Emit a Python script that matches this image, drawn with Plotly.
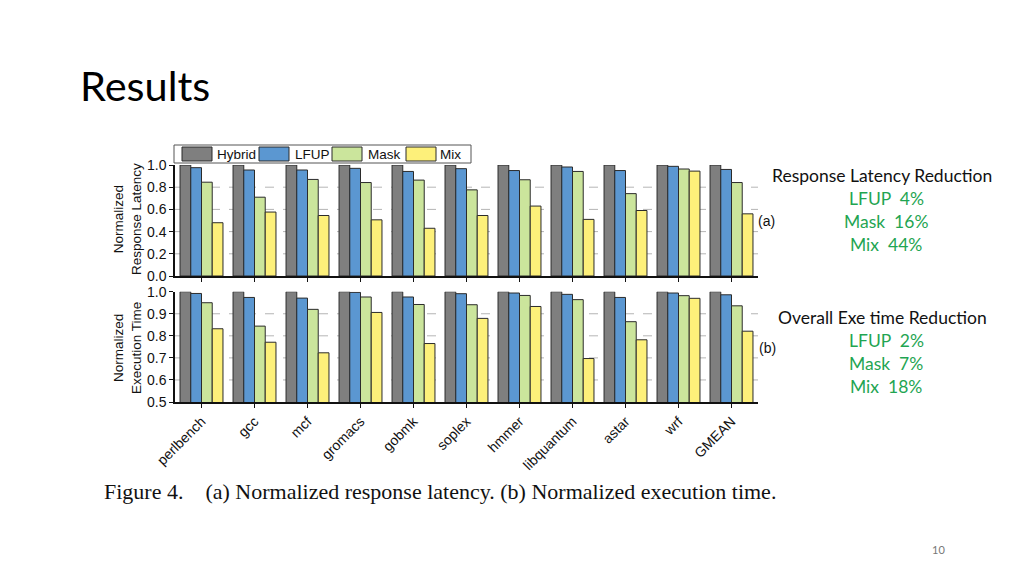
import plotly.graph_objects as go
from plotly.subplots import make_subplots

# page has an 8px body margin, so the figure is drawn 8px in from the window edge
OFF = 8
W, H = 1024 - OFF, 576 - OFF

benchmarks = ["perlbench", "gcc", "mcf", "gromacs", "gobmk", "soplex",
              "hmmer", "libquantum", "astar", "wrf", "GMEAN"]
series_names = ["Hybrid", "LFUP", "Mask", "Mix"]
colors = ["#7f7f7f", "#5b97d1", "#cbe59c", "#fdf07a"]

latency_hybrid = [1.0] * 11
latency_lfup = [0.976, 0.955, 0.955, 0.970, 0.942, 0.967, 0.950, 0.982, 0.950, 0.988, 0.960]
latency_mask = [0.845, 0.710, 0.870, 0.842, 0.864, 0.776, 0.867, 0.942, 0.742, 0.964, 0.842]
latency_mix = [0.480, 0.576, 0.545, 0.506, 0.430, 0.545, 0.630, 0.510, 0.590, 0.945, 0.560]

exec_hybrid = [1.0] * 11
exec_lfup = [0.992, 0.974, 0.971, 0.997, 0.976, 0.991, 0.994, 0.988, 0.974, 0.994, 0.986]
exec_mask = [0.950, 0.844, 0.920, 0.976, 0.942, 0.941, 0.983, 0.964, 0.864, 0.982, 0.936]
exec_mix = [0.832, 0.771, 0.723, 0.906, 0.765, 0.879, 0.933, 0.697, 0.782, 0.970, 0.821]

latency = [latency_hybrid, latency_lfup, latency_mask, latency_mix]
execution = [exec_hybrid, exec_lfup, exec_mask, exec_mix]

latency_ticks = [0.0, 0.2, 0.4, 0.6, 0.8, 1.0]
exec_ticks = [0.5, 0.6, 0.7, 0.8, 0.9, 1.0]
latency_grid = [0.2, 0.4, 0.6, 0.8]
exec_grid = [0.6, 0.7, 0.8, 0.9]

def px(x):
    return (x - OFF) / W

def py(y):
    return 1 - (y - OFF) / H

fig = make_subplots(rows=2, cols=1, shared_xaxes=False)

for i, name in enumerate(series_names):
    fig.add_trace(go.Bar(x=benchmarks, y=latency[i], name=name,
                         marker=dict(color=colors[i], line=dict(color="#2b2b2b", width=1)),
                         showlegend=False), row=1, col=1)
    fig.add_trace(go.Bar(x=benchmarks, y=execution[i], name=name,
                         marker=dict(color=colors[i], line=dict(color="#2b2b2b", width=1)),
                         showlegend=False), row=2, col=1)

x_dom = [px(175), px(758)]
tickfont = dict(family="Liberation Sans, Arial", size=14, color="#111")

axis_common = dict(showline=True, linecolor="#111", linewidth=1.5, mirror=False,
                   ticks="outside", ticklen=4, tickcolor="#111", tickwidth=1,
                   showgrid=False, zeroline=False, tickfont=tickfont, automargin=False)

fig.update_layout(
    width=W, height=H, margin=dict(l=0, r=0, t=0, b=0, autoexpand=False),
    paper_bgcolor="white", plot_bgcolor="white",
    barmode="group", bargap=0.19, bargroupgap=0.0,
    xaxis=dict(domain=x_dom, anchor="y", range=[-0.5, 10.5], showticklabels=False, **axis_common),
    yaxis=dict(domain=[py(276), py(165)], anchor="x", range=[0, 1.0],
               tickvals=latency_ticks, ticktext=[f"{v:.1f}" for v in latency_ticks], **axis_common),
    xaxis2=dict(domain=x_dom, anchor="y2", range=[-0.5, 10.5], tickangle=-45, **axis_common),
    yaxis2=dict(domain=[py(402), py(291.7)], anchor="x2", range=[0.5, 1.0],
                tickvals=exec_ticks, ticktext=[f"{v:.1f}" for v in exec_ticks], **axis_common),
    showlegend=False,
)

for g in latency_grid:
    fig.add_hline(y=g, line=dict(color="#b5b5b5", width=1, dash="dash"), layer="below", row=1, col=1)
for g in exec_grid:
    fig.add_hline(y=g, line=dict(color="#b5b5b5", width=1, dash="dash"), layer="below", row=2, col=1)

# custom legend box
shapes = [dict(type="rect", xref="paper", yref="paper", x0=px(174), x1=px(471), y0=py(163), y1=py(145),
               line=dict(color="#555", width=1), fillcolor="white")]
sw_x = [182, 259, 332, 406]
lab_x = [215, 293, 366, 438]
annotations = []
for i, name in enumerate(series_names):
    shapes.append(dict(type="rect", xref="paper", yref="paper", x0=px(sw_x[i]), x1=px(sw_x[i] + 30),
                       y0=py(161), y1=py(147), line=dict(color="#2b2b2b", width=1), fillcolor=colors[i]))
    annotations.append(dict(xref="paper", yref="paper", x=px(lab_x[i]), y=py(154.5), text=name,
                            showarrow=False, xanchor="left", yanchor="middle",
                            font=dict(family="Liberation Sans, Arial", size=13.5, color="#111")))
fig.update_layout(shapes=fig.layout.shapes + tuple(shapes))

# axis titles
annotations.append(dict(xref="paper", yref="paper", x=px(127), y=py(219), text="Normalized<br>Response Latency",
                        showarrow=False, textangle=-90, xanchor="center", yanchor="middle",
                        font=dict(family="Liberation Sans, Arial", size=13.5, color="#111")))
annotations.append(dict(xref="paper", yref="paper", x=px(127), y=py(348), text="Normalized<br>Execution Time",
                        showarrow=False, textangle=-90, xanchor="center", yanchor="middle",
                        font=dict(family="Liberation Sans, Arial", size=13.5, color="#111")))
annotations.append(dict(xref="paper", yref="paper", x=px(766), y=py(221), text="(a)", showarrow=False,
                        xanchor="center", yanchor="middle",
                        font=dict(family="Liberation Sans, Arial", size=14, color="#111")))
annotations.append(dict(xref="paper", yref="paper", x=px(767), y=py(348), text="(b)", showarrow=False,
                        xanchor="center", yanchor="middle",
                        font=dict(family="Liberation Sans, Arial", size=14, color="#111")))

# title
annotations.append(dict(xref="paper", yref="paper", x=px(78), y=py(85), text="Results", showarrow=False,
                        xanchor="left", yanchor="middle",
                        font=dict(family="Lato, Open Sans", size=41.5, color="#000")))

green = "#1fa552"
right_font = "Lato, Open Sans"
right_lines = [
    ("Response Latency Reduction", 175, "#111"),
    ("LFUP  4%", 198, green),
    ("Mask  16%", 221, green),
    ("Mix  44%", 244, green),
    ("Overall Exe time Reduction", 317, "#111"),
    ("LFUP  2%", 340, green),
    ("Mask  7%", 363, green),
    ("Mix  18%", 386, green),
]
for txt, y, c in right_lines:
    cx = 882 if "Reduction" in txt else 886
    annotations.append(dict(xref="paper", yref="paper", x=px(cx), y=py(y), text=txt, showarrow=False,
                            xanchor="center", yanchor="middle",
                            font=dict(family=right_font, size=17.5, color=c)))

annotations.append(dict(xref="paper", yref="paper", x=px(102), y=py(491),
                        text="Figure 4.&nbsp;&nbsp;&nbsp;&nbsp;(a) Normalized response latency. (b) Normalized execution time.",
                        showarrow=False, xanchor="left", yanchor="middle",
                        font=dict(family="Liberation Serif, Times New Roman", size=22, color="#111")))

annotations.append(dict(xref="paper", yref="paper", x=px(938), y=py(549), text="10", showarrow=False,
                        xanchor="center", yanchor="middle",
                        font=dict(family="Lato, Open Sans", size=11, color="#777")))

fig.update_layout(annotations=annotations)

fig.write_html("out.html")
